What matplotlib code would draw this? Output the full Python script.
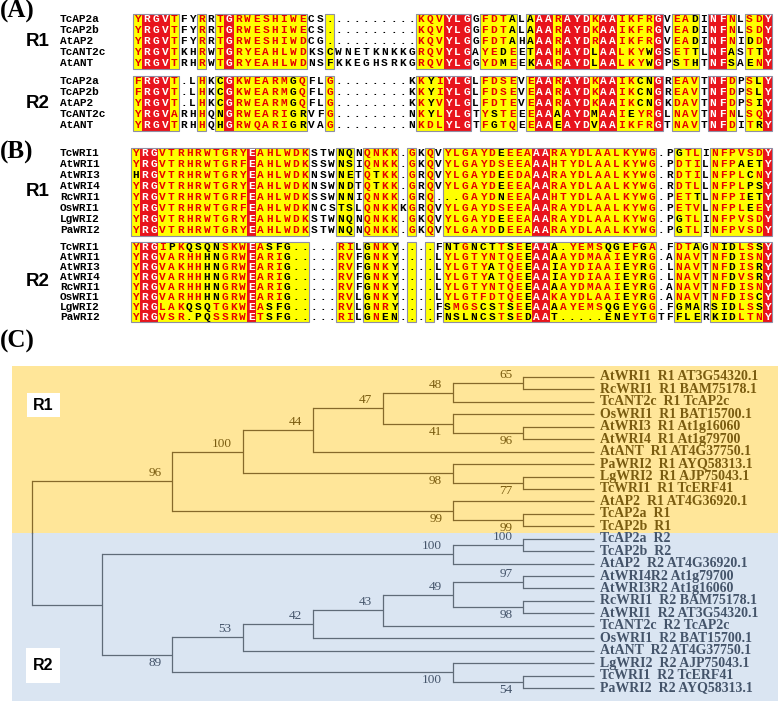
import matplotlib
matplotlib.use('Agg')
import matplotlib.pyplot as plt
from matplotlib.patches import Rectangle
from collections import Counter

# ---------------- (A) AP2 repeats, AP2 / ANT proteins
names_a = ['TcAP2a', 'TcAP2b', 'AtAP2', 'TcANT2c', 'AtANT']
seq_a_r1 = [
    'YRGVTFYRRTGRWESHIWECS..........KQVYLGGFDTALAAARAYDKAAIKFRGVEADINFNLSDY',
    'YRGVTFYRRTGRWESHIWECS..........KQVYLGGFDTALAAARAYDKAAIKFRGVEADINFNLSDY',
    'YRGVTFYRRTGRWESHIWDCG..........KQVYLGGFDTAHAAARAYDRAAIKFRGVEADINFNIDDY',
    'YRGVTKHRWTGRYEAHLWDKSCWNETKNKKGRQVYLGAYEDEETAAHAYDLAALKYWGSETTLNFASTTY',
    'YRGVTRHRWTGRYEAHLWDNSFKKEGHSRKGRQVYLGGYDMEEKAARAYDLAALKYWGPSTHTNFSAENY',
]
seq_a_r2 = [
    'FRGVT.LHKCGKWEARMGQFLG........KKYIYLGLFDSEVEAARAYDKAAIKCNGREAVTNFDPSLY',
    'FRGVT.LHKCGKWEARMGQFLG........KKYIYLGLFDSEVEAARAYDKAAIKCNGREAVTNFDPSLY',
    'YRGVT.LHKCGRWEARMGQFLG........KKYVYLGLFDTEVEAARAYDKAAIKCNGKDAVTNFDPSIY',
    'YRGVARHHQNGRWEARIGRVFG........NKYLYLGTYSTEEEAAAAYDMAAIEYRGLNAVTNFNLSQY',
    'YRGVTRHHQHGRWQARIGRVAG........NKDLYLGTFGTQEEAAEAYDVAAIKFRGTNAVTNFDITRY',
]
# column shading: r = identical (red), y = similar (yellow), w = none
cols_a = ('y' 'rrr' 'y' 'ww' 'y' 'w' 'y' 'r' 'yyyyyyyy' 'ww' 'y' 'wwwwwwwww'
          'yyy' 'rrr' 'w' 'yyyy' 'w' 'y' 'rr' 'y' 'rrr' 'y' 'rr' 'yyyy' 'r'
          'w' 'yyy' 'w' 'rr' 'y' 'w' 'yy' 'r')

# ---------------- (B) AP2 repeats, WRI proteins
names_b = ['TcWRI1', 'AtWRI1', 'AtWRI3', 'AtWRI4', 'RcWRI1', 'OsWRI1', 'LgWRI2', 'PaWRI2']
seq_b_r1 = [
    'YRGVTRHRWTGRYEAHLWDKSTWNQNQNKK.GKQVYLGAYDEEEAAARAYDLAALKYWG.PGTLINFPVSDY',
    'YRGVTRHRWTGRFEAHLWDKSSWNSIQNKK.GKQVYLGAYDSEEAAAHTYDLAALKYWG.PDTILNFPAETY',
    'HRGVTRHRWTGRYEAHLWDKNSWNETQTKK.GRQVYLGAYDEEDAAARAYDLAALKYWG.RDTILNFPLCNY',
    'YRGVTRHRWTGRYEAHLWDKNSWNDTQTKK.GRQVYLGAYDEEEAAARAYDLAALKYWG.RDTLLNFPLPSY',
    'YRGVTRHRWTGRFEAHLWDKSSWNNIQNKK.GRQ...GAYDNEEAAAHTYDLAALKYWG.PETTLNFPIETY',
    'YRGVTRHRWTGRFEAHLWDKNCSTSLQNKKKGRQVYLGAYDSEEAAARAYDLAALKYWG.PETVLNFPLEEY',
    'YRGVTRHRWTGRYEAHLWDKSTWNQNQNKK.GKQVYLGAYDEEEAAARAYDLAALKYWG.PGTLINFPVSDY',
    'YRGVTRHRWTGRYEAHLWDKSTWNQNQNKK.GKQVYLGAYDDEEAAARAYDLAALKYWG.PGTLINFPVSDY',
]
seq_b_r2 = [
    'YRGIPKQSQNSKWEASFG.....RILGNKY....FNTGNCTTSEEAAA.YEMSQGEFGA.FDTAGNIDLSSY',
    'YRGVARHHHNGRWEARIG.....RVFGNKY....LYLGTYNTQEEAAAAYDMAAIEYRG.ANAVTNFDISNY',
    'YRGVAKHHHNGRWEARIG.....RVFGNKY....LYLGTYATQEEAAIAYDIAAIEYRG.LNAVTNFDISRY',
    'YRGVARHHHNGRWEARIG.....RVFGNKY....LYLGTYATQEEAAIAYDIAAIEYRG.LNAVTNFDVSRY',
    'YRGVARHHHNGRWEARIG.....RVFGNKY....LYLGTYNTQEEAAAAYDMAAIEYRG.ANAVTNFDISNY',
    'YRGVARHHHNGRWEARIG.....RVLGNKY....LYLGTFDTQEEAAKAYDLAAIEYRG.ANAVTNFDISCY',
    'YRGLAKQSQTGKWEASFG.....RVLGNRY....FSMGSCSTSEEAAAAYEMSQGEYGG.FGMARSIDLSSY',
    'YRGVSR.PQSSRWETSFG.....RILGNEN....FNSLNCSTSEDAAT.....ENEYTGTFFLERKIDLTNY',
]
cols_b = ('y' 'rr' 'yyyyyyyyyy' 'r' 'yyyyyy' 'www' 'yy' 'w' 'yyyy' 'w' 'y' 'w'
          'y' 'w' 'yyyyyyyyyy' 'rr' 'yyyyyyyyyyyy' 'ww' 'yyy' 'w' 'yyyyyy' 'r')

for s in seq_a_r1 + seq_a_r2:
    assert len(s) == len(cols_a), s
for s in seq_b_r1 + seq_b_r2:
    assert len(s) == len(cols_b), s

# ---------------- (C) tree: (level, bootstrap, label side, children)
tree_r1 = (2, '96', 'a', [
    (3, '100', 'a', [
        (4, '44', 'a', [
            (5, '47', 'a', [
                (6, '48', 'a', [(7, '65', 'a', ['AtWRI1  R1 AT3G54320.1', 'RcWRI1  R1 BAM75178.1']),
                                'TcANT2c  R1 TcAP2c']),
                (6, '41', 'b', ['OsWRI1  R1 BAT15700.1',
                                (7, '96', 'b', ['AtWRI3  R1 At1g16060', 'AtWRI4  R1 At1g79700'])]),
            ]),
            'AtANT  R1 AT4G37750.1',
        ]),
        (6, '98', 'b', ['PaWRI2  R1 AYQ58313.1',
                        (7, '77', 'b', ['LgWRI2  R1 AJP75043.1', 'TcWRI1  R1 TcERF41'])]),
    ]),
    (6, '99', 'b', ['AtAP2  R1 AT4G36920.1', (7, '99', 'b', ['TcAP2a  R1', 'TcAP2b  R1'])]),
])
tree_r2 = (1, '', 'a', [
    (6, '100', 'a', [(7, '100', 'a', ['TcAP2a  R2', 'TcAP2b  R2']), 'AtAP2  R2 AT4G36920.1']),
    (2, '89', 'b', [
        (3, '53', 'a', [
            (4, '42', 'a', [
                (5, '43', 'a', [
                    (6, '49', 'a', [(7, '97', 'a', ['AtWRI4R2 At1g79700', 'AtWRI3R2 At1g16060']),
                                    (7, '98', 'b', ['RcWRI1  R2 BAM75178.1', 'AtWRI1  R2 AT3G54320.1'])]),
                    'TcANT2c  R2 TcAP2c']),
                'OsWRI1  R2 BAT15700.1']),
            'AtANT  R2 AT4G37750.1']),
        (6, '100', 'b', ['LgWRI2  R2 AJP75043.1',
                         (7, '54', 'b', ['TcWRI1  R2 TcERF41', 'PaWRI2  R2 AYQ58313.1'])]),
    ]),
])

RED = '#e8141c'
YEL = '#ffff00'
RLET = '#e60000'
FRAME = '#8e8ea4'
groups = ['ILMV', 'FYW', 'KRH', 'DENQ', 'STAG', 'C', 'P']
MONO = 'Liberation Mono'
SERIF = 'Liberation Serif'
SANS = 'Liberation Sans'

fig = plt.figure(figsize=(7.78, 7.02), dpi=100)
ax = fig.add_axes([0, 0, 1, 1])
ax.set_xlim(0, 778)
ax.set_ylim(702, 0)
ax.axis('off')


def group_of(c):
    for g in groups:
        if c in g:
            return g
    return None


def draw_panel(names, blocks, cols, x0, pitch, tops, heights, rlabels):
    allseq = [s for b in blocks for s in b]
    best = []
    for j in range(len(cols)):
        cnt = Counter(group_of(s[j]) for s in allseq if s[j] != '.')
        best.append(cnt.most_common(1)[0][0] if cnt else None)
    for seqs, top, h, rl in zip(blocks, tops, heights, rlabels):
        n = len(seqs)
        for j, c in enumerate(cols):
            if c == 'w':
                continue
            ax.add_patch(Rectangle((x0 + j * pitch, top), pitch, n * h,
                                   facecolor=RED if c == 'r' else YEL, lw=0, zorder=1))
        # frames around runs of shaded columns
        j = 0
        while j < len(cols):
            if cols[j] != 'w':
                k = j
                while k + 1 < len(cols) and cols[k + 1] != 'w':
                    k += 1
                ax.add_patch(Rectangle((x0 + j * pitch, top), (k - j + 1) * pitch, n * h,
                                       facecolor='none', edgecolor=FRAME, lw=0.8, zorder=3))
                j = k + 1
            else:
                j += 1
        for i, (nm, s) in enumerate(zip(names, seqs)):
            yc = top + (i + 0.5) * h
            ax.text(60, yc, nm, fontsize=8, family=MONO, fontweight='bold',
                    va='center', ha='left', zorder=4)
            for j, ch in enumerate(s):
                c = cols[j]
                if c == 'r':
                    col = 'white'
                elif c == 'y' and ch != '.' and group_of(ch) == best[j]:
                    col = RLET
                else:
                    col = 'black'
                ax.text(x0 + (j + 0.5) * pitch, yc, ch, fontsize=8, family=MONO,
                        fontweight='bold', color=col, ha='center', va='center', zorder=4)
        ax.text(38, top + n * h / 2, rl, fontsize=13.5, family=SANS, fontweight='bold',
                ha='center', va='center')


draw_panel(names_a, [seq_a_r1, seq_a_r2], cols_a, 133.2, 9.13, [13.5, 75.5], [11, 11], ['R1', 'R2'])
draw_panel(names_b, [seq_b_r1, seq_b_r2], cols_b, 131.3, 8.9, [147.5, 241.5], [11, 10], ['R1', 'R2'])

for lab, y in [('(A)', 11), ('(B)', 152), ('(C)', 341)]:
    ax.text(0, y, lab, fontsize=18, family=SERIF, fontweight='bold', ha='left', va='center')

# ---------------- tree panel
ax.add_patch(Rectangle((12, 366), 766, 166.5, facecolor='#ffe699', lw=0, zorder=0))
ax.add_patch(Rectangle((12, 532.5), 766, 168, facecolor='#dae5f2', lw=0, zorder=0))

leaf_y0, leaf_dy = 377, 12.44
lvl_x0, lvl_dx = 32, 70.2
counter = [0]


def draw_node(node, px, lc, tc):
    if isinstance(node, str):
        y = leaf_y0 + counter[0] * leaf_dy
        counter[0] += 1
        x = lvl_x0 + 8 * lvl_dx
        ax.plot([px, x], [y, y], color=lc, lw=0.9, solid_capstyle='butt')
        ax.text(x + 6, y, node, fontsize=10, family=SERIF, fontweight='bold',
                color=tc, ha='left', va='center')
        return y
    lvl, sup, side, kids = node
    x = lvl_x0 + lvl * lvl_dx
    ys = [draw_node(k, x, lc, tc) for k in kids]
    y = (ys[0] + ys[-1]) / 2
    ax.plot([x, x], [ys[0], ys[-1]], color=lc, lw=0.9)
    ax.plot([px, x], [y, y], color=lc, lw=0.9, solid_capstyle='butt')
    if sup:
        if side == 'a':
            ax.text(x - 11, y - 2, sup, fontsize=9.5, family=SERIF, color=tc,
                    ha='right', va='bottom')
        else:
            ax.text(x - 11, y + 2, sup, fontsize=9.5, family=SERIF, color=tc,
                    ha='right', va='top')
    return y


root_x = lvl_x0
y1 = draw_node(tree_r1, root_x, '#86692a', '#7a5c10')
y2 = draw_node(tree_r2, root_x, '#5f6b78', '#44546a')
ax.plot([root_x, root_x], [y1, 532.5], color='#86692a', lw=0.9)
ax.plot([root_x, root_x], [532.5, y2], color='#5f6b78', lw=0.9)

ax.add_patch(Rectangle((27, 393), 33, 24, facecolor='white', lw=0, zorder=2))
ax.text(43.5, 405, 'R1', fontsize=11.5, family=SANS, fontweight='bold', ha='center', va='center', zorder=3)
ax.add_patch(Rectangle((26, 648), 34, 35, facecolor='white', lw=0, zorder=2))
ax.text(43, 665.5, 'R2', fontsize=11.5, family=SANS, fontweight='bold', ha='center', va='center', zorder=3)

fig.savefig('out.png', dpi=100)
